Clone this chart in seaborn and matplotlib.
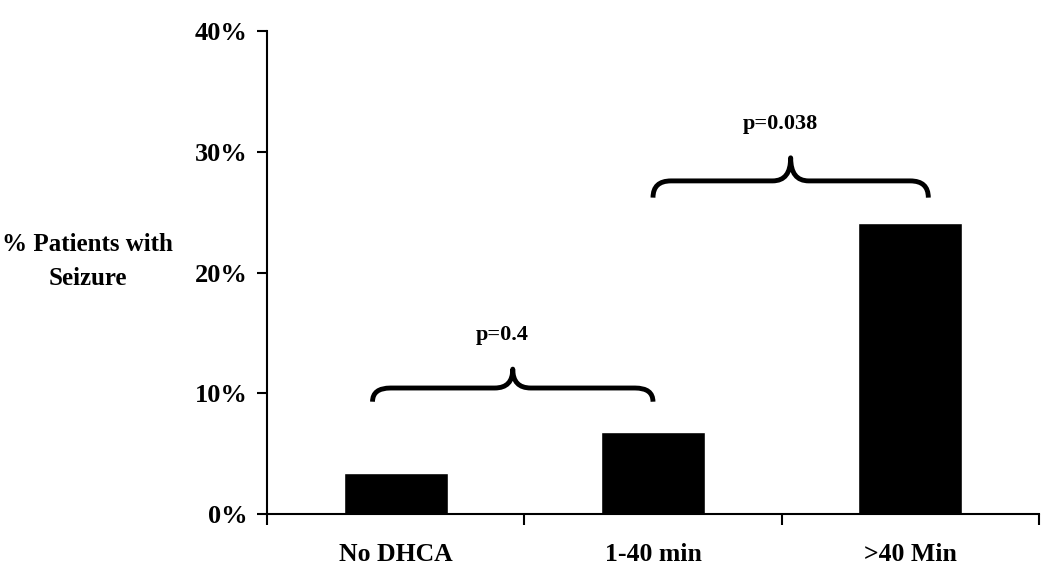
import matplotlib
matplotlib.use("Agg")
import matplotlib.pyplot as plt
from matplotlib.path import Path
from matplotlib.patches import PathPatch
from matplotlib.ticker import FixedLocator, PercentFormatter
import pandas as pd
import seaborn as sns

groups = ["No DHCA", "1-40 min", ">40 Min"]
seizure_pct = [3.4, 6.8, 24.1]

# p-value brackets: (left x, right x, tip y, peak y, label)
brace_left = [-0.09, 1.0]
brace_right = [1.0, 2.07]
brace_tip = [9.3, 26.2]
brace_peak = [12.0, 29.5]
p_labels = ["p=0.4", "p=0.038"]


def draw_brace(ax, x0, x1, ytip, ypeak, dx=0.07):
    ymid = ytip + (ypeak - ytip) * 0.42
    xc = (x0 + x1) / 2
    verts = [
        (x0, ytip), (x0, ymid), (x0 + dx, ymid),
        (xc - dx, ymid),
        (xc, ymid), (xc, ypeak),
        (xc, ymid), (xc + dx, ymid),
        (x1 - dx, ymid),
        (x1, ymid), (x1, ytip),
    ]
    codes = [Path.MOVETO, Path.CURVE3, Path.CURVE3, Path.LINETO,
             Path.CURVE3, Path.CURVE3, Path.CURVE3, Path.CURVE3,
             Path.LINETO, Path.CURVE3, Path.CURVE3]
    ax.add_patch(PathPatch(Path(verts, codes), fill=False, lw=3.5,
                           edgecolor="black", capstyle="butt", joinstyle="round"))


sns.set_style("white")
plt.rcParams["font.family"] = ["Liberation Serif", "DejaVu Serif"]
plt.rcParams["font.weight"] = "bold"
plt.rcParams["text.color"] = "black"
plt.rcParams["axes.labelcolor"] = "black"
plt.rcParams["xtick.color"] = "black"
plt.rcParams["ytick.color"] = "black"

df = pd.DataFrame({"group": groups, "pct": seizure_pct})

fig = plt.figure(figsize=(10.5, 5.72), dpi=100)
ax = fig.add_axes([0.2543, 0.1014, 0.7352, 0.8444])

sns.barplot(data=df, x="group", y="pct", color="black", width=0.405,
            saturation=1, ax=ax)

ax.set_xlim(-0.5, 2.5)
ax.set_ylim(0, 40)
ax.set_yticks([0, 10, 20, 30, 40])
ax.yaxis.set_major_formatter(PercentFormatter(decimals=0))

for side in ["top", "right"]:
    ax.spines[side].set_visible(False)
for side in ["left", "bottom"]:
    ax.spines[side].set_linewidth(1.5)
    ax.spines[side].set_color("black")

ax.tick_params(axis="y", which="major", direction="out", length=7, width=1.5,
               labelsize=19, pad=7, left=True)
ax.tick_params(axis="x", which="major", length=0, labelsize=18.5, pad=21)
ax.xaxis.set_minor_locator(FixedLocator([-0.5, 0.5, 1.5, 2.5]))
ax.tick_params(axis="x", which="minor", direction="out", length=8, width=1.5,
               bottom=True)
for lab in ax.get_xticklabels() + ax.get_yticklabels():
    lab.set_fontweight("bold")

ax.set_xlabel("")
ax.set_ylabel("% Patients with\nSeizure", rotation=0, fontsize=18,
              fontweight="bold", ha="center", va="center", linespacing=1.6)
ax.yaxis.set_label_coords(-0.232, 0.522)

for x0, x1, yt, yp, lab in zip(brace_left, brace_right, brace_tip, brace_peak, p_labels):
    draw_brace(ax, x0, x1, yt, yp)
    ax.text((x0 + x1) / 2 - 0.04, yp + 2.8, lab, ha="center", va="center",
            fontsize=16, fontweight="bold")

fig.savefig("out.png", dpi=100)
